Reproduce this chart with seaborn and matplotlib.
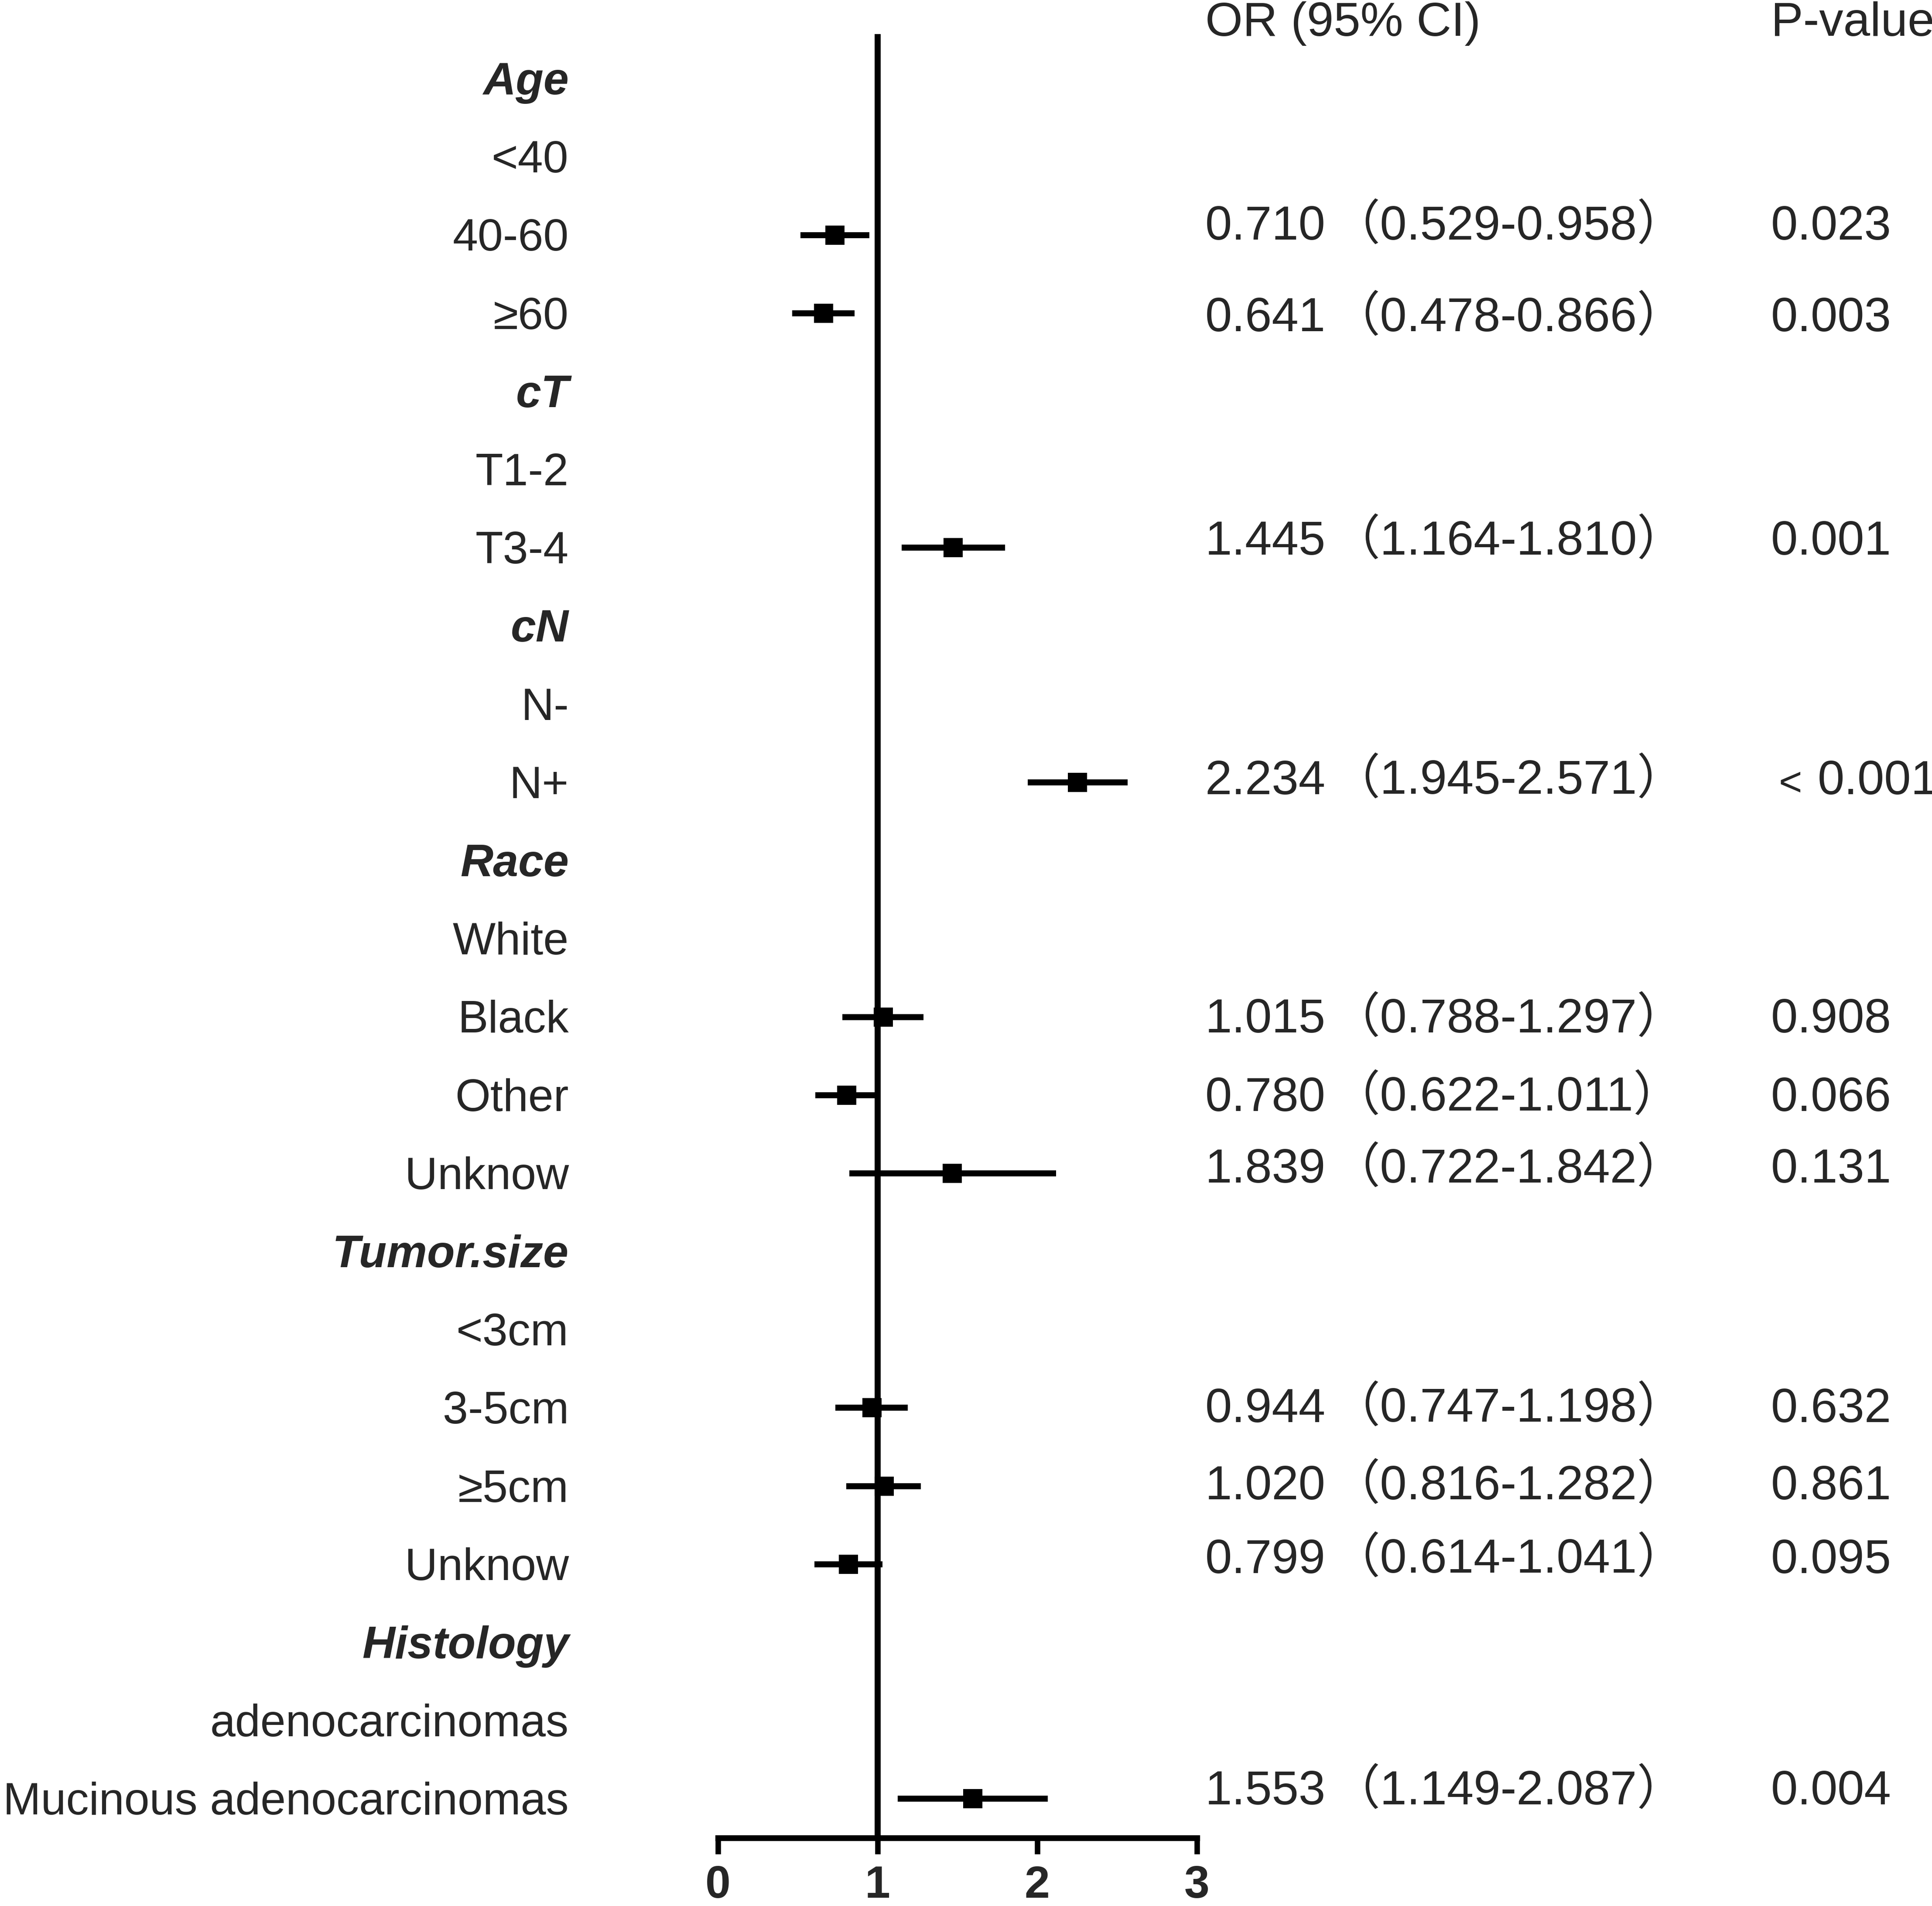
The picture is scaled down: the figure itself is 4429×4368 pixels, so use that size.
import numpy as np
import pandas as pd
import seaborn as sns
import matplotlib.pyplot as plt

nan = np.nan

# one entry per row of the forest plot, top to bottom
labels = ["Age", "<40", "40-60", "≥60",
          "cT", "T1-2", "T3-4",
          "cN", "N-", "N+",
          "Race", "White", "Black", "Other", "Unknow",
          "Tumor.size", "<3cm", "3-5cm", "≥5cm", "Unknow",
          "Histology", "adenocarcinomas", "Mucinous adenocarcinomas"]
header_rows = [0, 4, 7, 10, 15, 20]

# point estimate and CI as drawn in the picture
or_point = [nan, nan, 0.732, 0.663, nan, nan, 1.473, nan, nan, 2.251,
            nan, nan, 1.036, 0.806, 1.467, nan, nan, 0.964, 1.041, 0.817,
            nan, nan, 1.596]
ci_low = [nan, nan, 0.516, 0.465, nan, nan, 1.150, nan, nan, 1.940,
          nan, nan, 0.779, 0.610, 0.822, nan, nan, 0.735, 0.803, 0.604,
          nan, nan, 1.126]
ci_high = [nan, nan, 0.949, 0.856, nan, nan, 1.798, nan, nan, 2.566,
           nan, nan, 1.287, 0.995, 2.117, nan, nan, 1.190, 1.270, 1.030,
           nan, nan, 2.066]

# printed table columns
or_text = ["", "", "0.710", "0.641", "", "", "1.445", "", "", "2.234",
           "", "", "1.015", "0.780", "1.839", "", "", "0.944", "1.020", "0.799",
           "", "", "1.553"]
ci_text = ["", "", "0.529-0.958", "0.478-0.866", "", "", "1.164-1.810", "", "", "1.945-2.571",
           "", "", "0.788-1.297", "0.622-1.011", "0.722-1.842", "", "", "0.747-1.198",
           "0.816-1.282", "0.614-1.041", "", "", "1.149-2.087"]
p_text = ["", "", "0.023", "0.003", "", "", "0.001", "", "", "<0.001",
          "", "", "0.908", "0.066", "0.131", "", "", "0.632", "0.861", "0.095",
          "", "", "0.004"]

x_ticks = [0, 1, 2, 3]

df = pd.DataFrame({
    "label": labels,
    "row": np.arange(len(labels)),
    "or": or_point,
    "lo": ci_low,
    "hi": ci_high,
})
est = df.dropna()

sns.set_style("white")
plt.rcParams["font.family"] = ["Liberation Sans", "Noto Sans CJK SC", "DejaVu Sans"]

fig = plt.figure(figsize=(4429 / 300, 4368 / 300), dpi=300)
ax = fig.add_axes([0.3716, 0.0357, 0.2479, 0.9448])

ax.hlines(est["row"], est["lo"], est["hi"], color="black", lw=3.3,
          capstyle="butt", zorder=2)
sns.scatterplot(data=est, x="or", y="row", marker="s", s=112, color="black",
                linewidth=0, legend=False, ax=ax, zorder=3)

ax.set_xlim(0, 3)
ax.set_ylim(len(labels) - 0.5, -0.53)
ax.set_xlabel("")
ax.set_ylabel("")
ax.set_yticks([])
ax.set_xticks(x_ticks)
ax.set_xticklabels([str(t) for t in x_ticks], fontweight="bold")
ax.tick_params(axis="x", direction="out", length=8.9, width=3.0, pad=6,
               labelsize=25, color="black", bottom=True)

for side in ["top", "right"]:
    ax.spines[side].set_visible(False)
ax.spines["left"].set_position(("data", 1))
ax.spines["left"].set_linewidth(3.3)
ax.spines["bottom"].set_linewidth(3.2)
for side in ["left", "bottom"]:
    ax.spines[side].set_color("black")

fs = 25
fs_tab = 26.5

# left column of labels
for i, lab in enumerate(labels):
    hdr = i in header_rows
    ax.text(-0.934, i + 0.2, lab, ha="right", va="baseline", fontsize=fs,
            fontweight="bold" if hdr else "normal",
            fontstyle="italic" if hdr else "normal", clip_on=False)

# right table; the printed rows sit a little off the plotted rows
shift = {2: -0.14, 3: 0.03, 6: -0.11, 9: -0.05, 12: 0.0, 13: 0.0,
         14: -0.08, 17: -0.02, 18: -0.03, 19: -0.09, 22: -0.13}
ax.text(3.052, -0.547, "OR (95% CI)", ha="left", va="baseline", fontsize=fs_tab, clip_on=False)
ax.text(6.596, -0.547, "P-value", ha="left", va="baseline", fontsize=fs_tab, clip_on=False)
for i in range(len(labels)):
    if or_text[i] == "":
        continue
    y = i + 0.2 + shift.get(i, 0.0)
    ax.text(3.052, y, or_text[i], ha="left", va="baseline", fontsize=fs_tab, clip_on=False)
    ax.text(3.847, y, "（" + ci_text[i] + "）", ha="left", va="baseline",
            fontsize=fs_tab, clip_on=False)
    p = p_text[i]
    if p.startswith("<"):
        # small thin less-than sign in front of the value
        ax.text(6.645, y + 0.02, "<", ha="left", va="baseline", fontsize=22,
                fontweight="light", clip_on=False)
        ax.text(6.888, y, p[1:], ha="left", va="baseline", fontsize=fs_tab, clip_on=False)
    else:
        ax.text(6.596, y, p, ha="left", va="baseline", fontsize=fs_tab, clip_on=False)

fig.savefig("out.png", dpi=300)
